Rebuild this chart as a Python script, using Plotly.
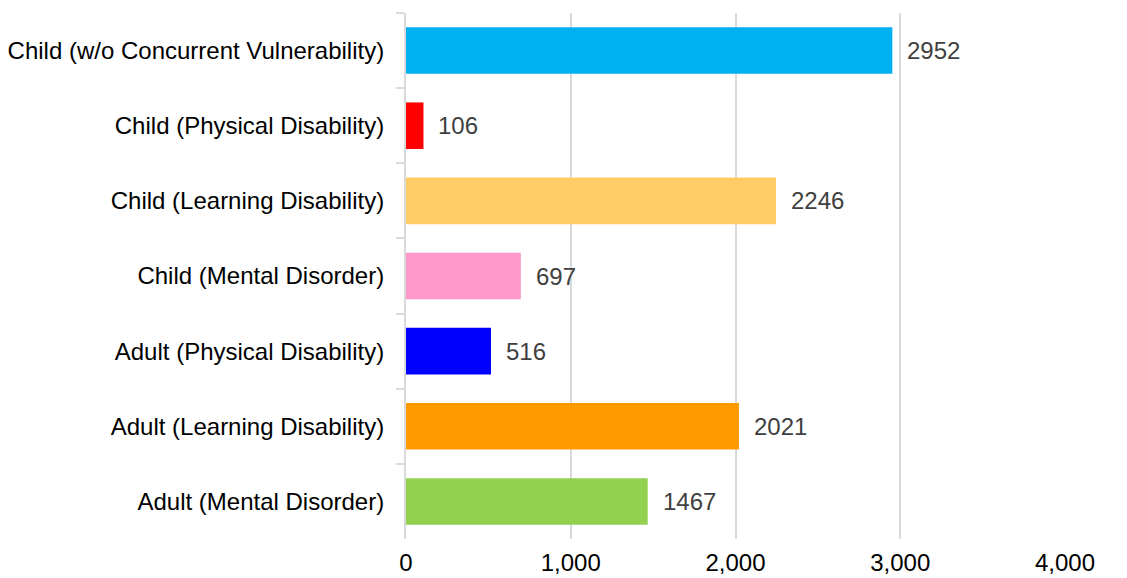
import plotly.graph_objects as go

categories = [
    "Child (w/o Concurrent Vulnerability)",
    "Child (Physical Disability)",
    "Child (Learning Disability)",
    "Child (Mental Disorder)",
    "Adult (Physical Disability)",
    "Adult (Learning Disability)",
    "Adult (Mental Disorder)",
]
values = [2952, 106, 2246, 697, 516, 2021, 1467]
colors = ["#00B0F0", "#FF0000", "#FFCC66", "#FF99CC", "#0000FF", "#FF9900", "#92D050"]
x_ticks = [0, 1000, 2000, 3000, 4000]
x_tick_labels = ["0", "1,000", "2,000", "3,000", "4,000"]

FONT = "Liberation Sans, Arial"

fig = go.Figure()
fig.add_trace(go.Bar(
    y=categories, x=values, orientation="h",
    marker=dict(color=colors, line=dict(width=0)),
    hoverinfo="x+y",
))
for c, v in zip(categories, values):
    fig.add_annotation(x=v, y=c, text=str(v), showarrow=False, xanchor="left",
                       xshift=13, font=dict(size=24, color="#404040", family=FONT))

fig.update_layout(
    width=1119, height=570,
    margin=dict(l=398, r=62, t=5, b=39),
    plot_bgcolor="white", paper_bgcolor="white",
    bargap=0.38,
    showlegend=False,
    font=dict(family=FONT, size=24, color="#000000"),
)
fig.update_xaxes(range=[0, 4000], tickvals=x_ticks, ticktext=x_tick_labels,
                 showgrid=True, gridcolor="#D9D9D9", gridwidth=2, zeroline=False,
                 showline=False, ticks="", ticklabelstandoff=7, automargin=False,
                 tickfont=dict(size=24, color="#000000"))
fig.update_yaxes(autorange="reversed", showline=True, linecolor="#D9D9D9", linewidth=2,
                 ticks="outside", tickson="boundaries", ticklen=8, tickcolor="#D9D9D9",
                 tickwidth=2, showgrid=False, ticklabelstandoff=15, automargin=False,
                 tickfont=dict(size=24, color="#000000"))

fig.write_html("out.html")
